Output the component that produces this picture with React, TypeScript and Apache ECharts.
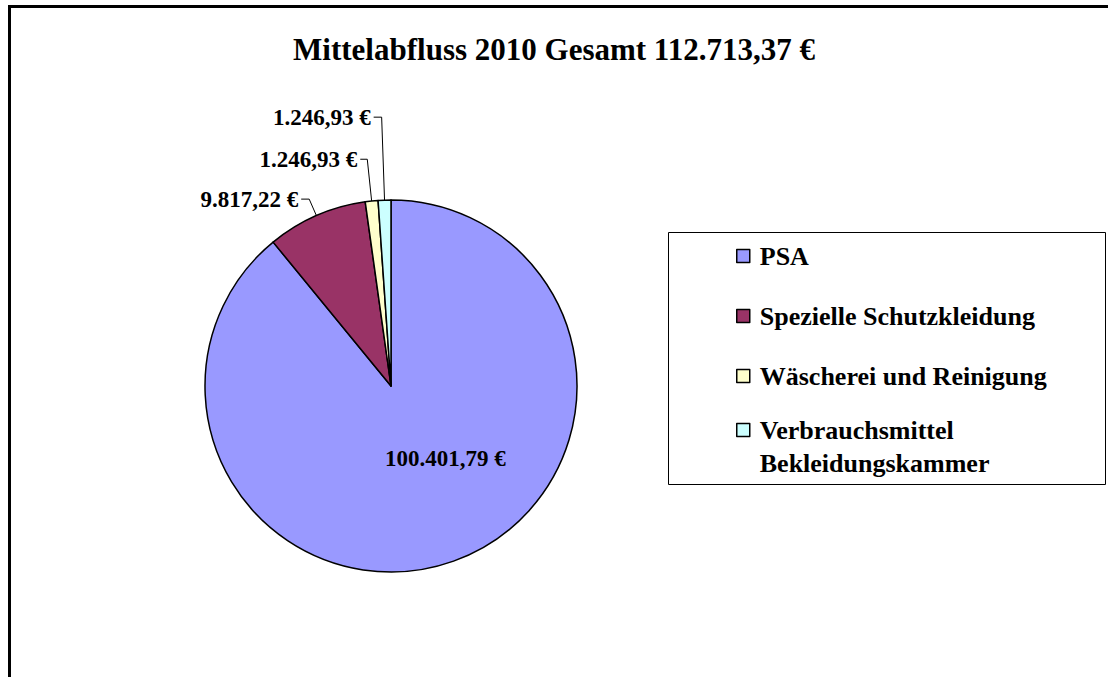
import React, { useEffect, useRef } from 'react';
import * as echarts from 'echarts';

// ---- data ----
const categories = [
  'PSA',
  'Spezielle Schutzkleidung',
  'Wäscherei und Reinigung',
  'Verbrauchsmittel Bekleidungskammer',
];
const values = [100401.79, 9817.22, 1246.93, 1246.93];
const sliceColors = ['#9999FF', '#993366', '#FFFFCC', '#CCFFFF'];
const titleText = 'Mittelabfluss 2010 Gesamt 112.713,37 €';

// ---- styling ----
const FONT = '"Liberation Serif", "Times New Roman", "DejaVu Serif", serif';
const leaderLines = [
  null,
  { length: 18, length2: 8 },
  { length: 42, length2: 7 },
  { length: 83, length2: 8 },
];

function fmtEuro(v: number): string {
  const parts = v.toFixed(2).split('.');
  const intPart = parts[0].replace(/\B(?=(\d{3})+(?!\d))/g, '.');
  return intPart + ',' + parts[1] + ' €';
}

export default function App() {
  const ref = useRef<HTMLDivElement>(null);

  useEffect(() => {
    if (!ref.current) return;
    const chart = echarts.init(ref.current, undefined, { renderer: 'svg' });

    const data = categories.map((name, i) => {
      const ll = leaderLines[i];
      return {
        name,
        value: values[i],
        itemStyle: { color: sliceColors[i] },
        label: { position: ll ? 'outside' : 'inside' },
        labelLine: ll
          ? { show: true, length: ll.length, length2: ll.length2 }
          : { show: false },
      };
    });

    const legendText = {
      fontFamily: FONT,
      fontWeight: 'bold',
      fontSize: 26,
      color: '#000',
    };

    chart.setOption({
      animation: false,
      backgroundColor: '#fff',
      title: {
        text: titleText,
        left: 'center',
        top: 28,
        textStyle: {
          fontFamily: FONT,
          fontWeight: 'bold',
          fontSize: 31,
          lineHeight: 32,
          color: '#000',
        },
      },
      graphic: [
        {
          type: 'polyline',
          silent: true,
          shape: { points: [[9.5, 720], [9.5, 6.5], [1150, 6.5]] },
          style: { fill: 'none', stroke: '#000', lineWidth: 3 },
        },
        {
          type: 'polyline',
          silent: true,
          shape: {
            points: [
              [668.5, 232.5],
              [1105.5, 232.5],
              [1105.5, 484.5],
              [668.5, 484.5],
              [668.5, 232.5],
            ],
          },
          style: { fill: 'none', stroke: '#000', lineWidth: 1 },
        },
      ],
      legend: [
        {
          orient: 'vertical',
          left: 736,
          top: 243,
          padding: 0,
          itemGap: 34,
          itemWidth: 13,
          itemHeight: 13,
          icon: 'rect',
          selectedMode: false,
          data: categories.slice(0, 3),
          itemStyle: { borderColor: '#000', borderWidth: 1.5 },
          textStyle: { ...legendText, lineHeight: 24, padding: [0, 0, 0, 5] },
        },
        {
          orient: 'vertical',
          left: 736,
          top: 380.5,
          padding: 0,
          itemWidth: 13,
          itemHeight: 13,
          icon: 'rect',
          selectedMode: false,
          data: categories.slice(3),
          formatter: (n: string) => '\n' + n.replace(' ', '\n'),
          itemStyle: { borderColor: '#000', borderWidth: 1.5 },
          textStyle: { ...legendText, lineHeight: 33, padding: [0, 0, 0, 5] },
        },
      ],
      series: [
        {
          type: 'pie',
          center: [391, 386],
          radius: 186,
          startAngle: 90,
          clockwise: true,
          avoidLabelOverlap: false,
          silent: true,
          emphasis: { disabled: true },
          itemStyle: { borderColor: '#000', borderWidth: 1.5 },
          label: {
            show: true,
            formatter: (p: any) => fmtEuro(p.value),
            fontFamily: FONT,
            fontWeight: 'bold',
            fontSize: 23,
            color: '#000',
            distanceToLabelLine: 3,
          },
          labelLine: {
            lineStyle: { color: '#000', width: 1 },
          },
          labelLayout: (params: any) =>
            params.dataIndex === 0 ? { dx: 22, dy: -18 } : {},
          data,
        },
      ],
    });

    return () => chart.dispose();
  }, []);

  return (
    <div
      ref={ref}
      style={{ position: 'fixed', left: 0, top: 0, width: 1108, height: 677, background: '#fff' }}
    />
  );
}
